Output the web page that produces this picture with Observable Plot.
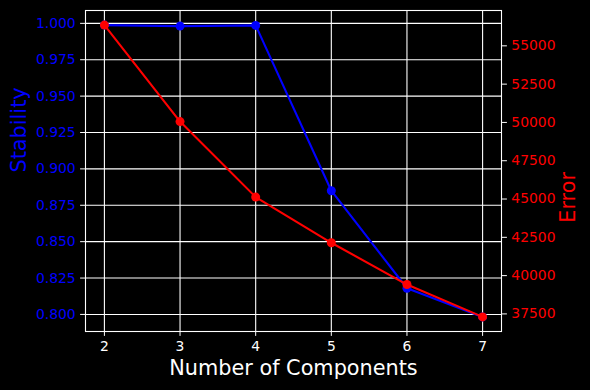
<!DOCTYPE html>
<html>
<head>
<meta charset="utf-8">
<script src="https://cdn.jsdelivr.net/npm/d3@7"></script>
<script src="https://cdn.jsdelivr.net/npm/@observablehq/plot@0.6"></script>
<style>
  html, body { margin: 0; padding: 0; background: #000; }
  #chart svg { display: block; }
</style>
</head>
<body>
<div id="chart"></div>
<script>
const components = [2, 3, 4, 5, 6, 7];
const stability = [0.9988, 0.9981, 0.9986, 0.885, 0.818, 0.7983];
const errorVals = [56354, 50056, 45125, 42143, 39416, 37304];
const xTicks = [2, 3, 4, 5, 6, 7];
const stabTicks = [0.800, 0.825, 0.850, 0.875, 0.900, 0.925, 0.950, 0.975, 1.000];
const errTicks = [37500, 40000, 42500, 45000, 47500, 50000, 52500, 55000];

function padded(vals) {
  const lo = d3.min(vals), hi = d3.max(vals), r = hi - lo;
  return [lo - 0.05 * r, hi + 0.05 * r];
}
const sDom = padded(stability);
const eDom = padded(errorVals);
const e2s = d3.scaleLinear().domain(eDom).range(sDom);

const stabData = components.map((c, i) => ({c, v: stability[i]}));
const errData = components.map((c, i) => ({c, v: e2s(errorVals[i])}));

const chart = Plot.plot({
  width: 590,
  height: 390,
  marginLeft: 85,
  marginRight: 89,
  marginTop: 10,
  marginBottom: 59,
  style: {background: "#000", color: "#fff", fontFamily: "DejaVu Sans", fontSize: "13.9px"},
  x: {domain: [1.75, 7.25]},
  y: {domain: sDom},
  marks: [
    Plot.gridX(xTicks, {stroke: "#fff", strokeOpacity: 1, strokeWidth: 1.1}),
    Plot.gridY(stabTicks, {stroke: "#fff", strokeOpacity: 1, strokeWidth: 1.1}),
    Plot.frame({stroke: "#fff", strokeWidth: 1.1}),
    Plot.axisX({ticks: xTicks, tickFormat: d3.format("d"), tickSize: 4.9, tickPadding: 4.9, stroke: "#fff", fill: "#fff", label: null}),
    Plot.axisY({ticks: stabTicks, tickFormat: d3.format(".3f"), tickSize: 4.9, tickPadding: 4.9, stroke: "#fff", fill: "#0000ff", label: null}),
    Plot.axisY(errTicks.map(e2s), {anchor: "right", tickFormat: (d) => String(Math.round(e2s.invert(d))), tickSize: 4.9, tickPadding: 4.9, stroke: "#fff", fill: "#ff0000", label: null}),
    Plot.line(stabData, {x: "c", y: "v", stroke: "#0000ff", strokeWidth: 2.1}),
    Plot.dot(stabData, {x: "c", y: "v", fill: "#0000ff", r: 4.5}),
    Plot.line(errData, {x: "c", y: "v", stroke: "#ff0000", strokeWidth: 2.1}),
    Plot.dot(errData, {x: "c", y: "v", fill: "#ff0000", r: 4.5}),
    Plot.text(["Number of Components"], {frameAnchor: "bottom", dy: 43, fill: "#fff", fontSize: 20.8}),
    Plot.text(["Stability"], {frameAnchor: "left", dx: -66, dy: 1.5, rotate: -90, fill: "#0000ff", fontSize: 20.8}),
    Plot.text(["Error"], {frameAnchor: "right", dx: 67, dy: 1, rotate: -90, fill: "#ff0000", fontSize: 20.8})
  ]
});
document.getElementById("chart").appendChild(chart);
</script>
</body>
</html>
